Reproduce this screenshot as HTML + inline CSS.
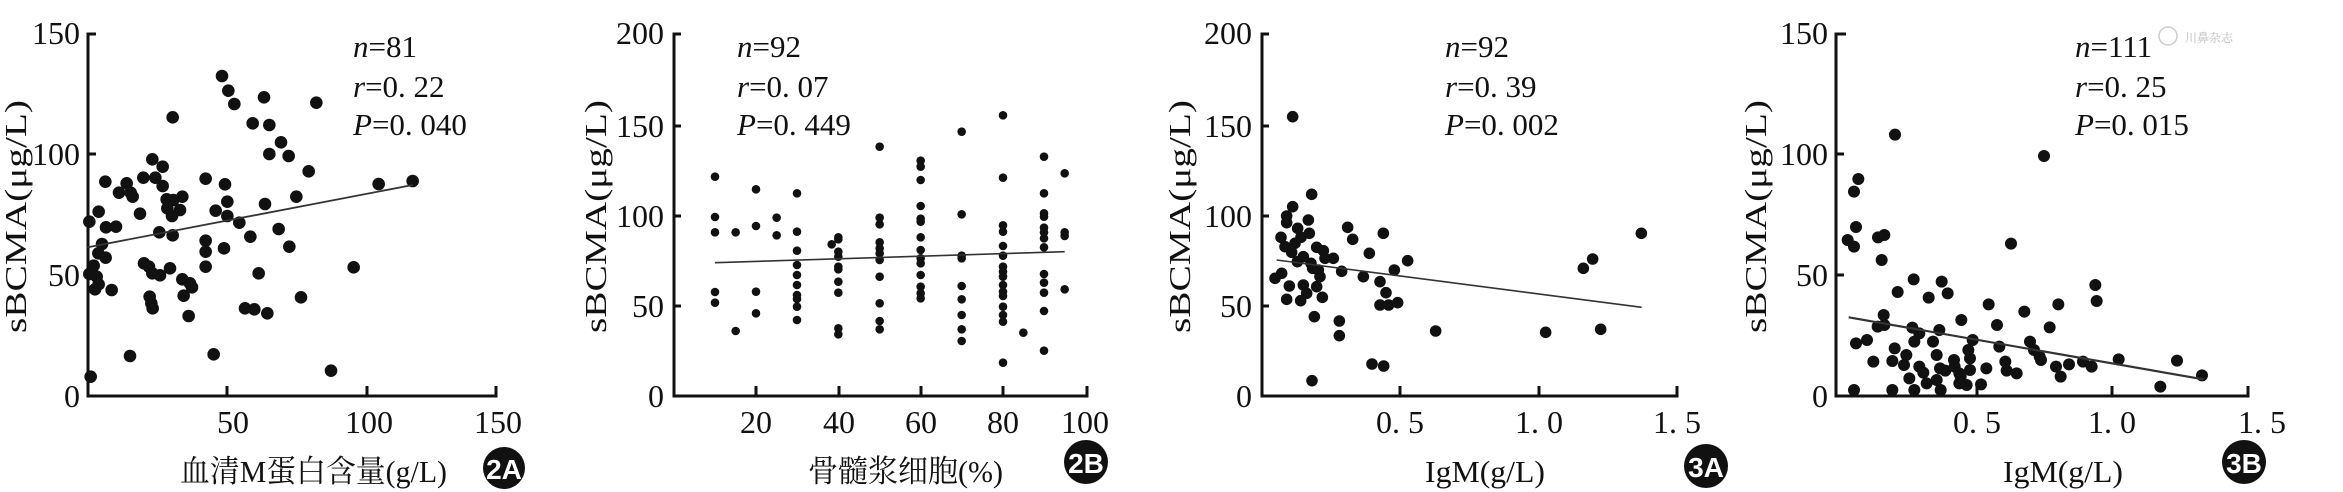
<!DOCTYPE html>
<html><head><meta charset="utf-8"><style>
html,body{margin:0;padding:0;background:#fff;}
svg{display:block;}
text{font-family:"Liberation Serif","Noto Serif CJK SC",serif;fill:#111;}
</style></head><body>
<svg id="s" width="2343" height="492" viewBox="0 0 2343 492" xmlns="http://www.w3.org/2000/svg">
<g stroke="#111" stroke-width="3" fill="none">
<path d="M96,34 H88 V396 H496 V386 M88,154 H96 M88,275 H96 M227,396 V386 M367,396 V386"/>
<path d="M681,34 H674 V396 H1087 V386 M674,126 H681 M674,216 H681 M674,306 H681 M756,396 V386 M839,396 V386 M921,396 V386 M1003,396 V386"/>
<path d="M1269,34 H1262 V396 H1677 V386 M1262,126 H1269 M1262,216 H1269 M1262,306 H1269 M1400,396 V386 M1539,396 V386"/>
<path d="M1846,34 H1836 V396 H2248 V386 M1836,154 H1844 M1836,275 H1844 M1977,396 V386 M2112,396 V386"/>
</g>
<g font-size="32" text-anchor="end">
<text x="80" y="44">150</text><text x="80" y="165">100</text><text x="80" y="286">50</text><text x="80" y="407">0</text>
<text x="664" y="44">200</text><text x="664" y="137">150</text><text x="664" y="227">100</text><text x="664" y="317">50</text><text x="664" y="407">0</text>
<text x="1252" y="44">200</text><text x="1252" y="137">150</text><text x="1252" y="227">100</text><text x="1252" y="317">50</text><text x="1252" y="407">0</text>
<text x="1828" y="44">150</text><text x="1828" y="165">100</text><text x="1828" y="286">50</text><text x="1828" y="407">0</text>
</g>
<g font-size="32" text-anchor="middle">
<text x="233" y="433">50</text><text x="369" y="433">100</text><text x="498" y="433">150</text>
<text x="756" y="433">20</text><text x="839" y="433">40</text><text x="921" y="433">60</text><text x="1003" y="433">80</text><text x="1085" y="433">100</text>
<text x="1400" y="433">0. 5</text><text x="1539" y="433">1. 0</text><text x="1677" y="433">1. 5</text>
<text x="1977" y="433">0. 5</text><text x="2112" y="433">1. 0</text><text x="2262" y="433">1. 5</text>
</g>
<g font-size="31">
<text transform="translate(26,333) rotate(-90)" textLength="233" lengthAdjust="spacingAndGlyphs">sBCMA(μg/L)</text>
<text transform="translate(606,333) rotate(-90)" textLength="233" lengthAdjust="spacingAndGlyphs">sBCMA(μg/L)</text>
<text transform="translate(1190,333) rotate(-90)" textLength="233" lengthAdjust="spacingAndGlyphs">sBCMA(μg/L)</text>
<text transform="translate(1766,333) rotate(-90)" textLength="233" lengthAdjust="spacingAndGlyphs">sBCMA(μg/L)</text>
<text x="180" y="482" textLength="267" lengthAdjust="spacingAndGlyphs">血清M蛋白含量(g/L)</text>
<text x="808" y="482" textLength="195" lengthAdjust="spacingAndGlyphs">骨髓浆细胞(%)</text>
<text x="1425" y="482" textLength="120" lengthAdjust="spacingAndGlyphs">IgM(g/L)</text>
<text x="2003" y="482" textLength="120" lengthAdjust="spacingAndGlyphs">IgM(g/L)</text>
</g>
<g font-size="31">
<text x="353" y="57"><tspan font-style="italic">n</tspan>=81</text>
<text x="353" y="97"><tspan font-style="italic">r</tspan>=0. 22</text>
<text x="353" y="135"><tspan font-style="italic">P</tspan>=0. 040</text>
<text x="737" y="57"><tspan font-style="italic">n</tspan>=92</text>
<text x="737" y="97"><tspan font-style="italic">r</tspan>=0. 07</text>
<text x="737" y="135"><tspan font-style="italic">P</tspan>=0. 449</text>
<text x="1445" y="57"><tspan font-style="italic">n</tspan>=92</text>
<text x="1445" y="97"><tspan font-style="italic">r</tspan>=0. 39</text>
<text x="1445" y="135"><tspan font-style="italic">P</tspan>=0. 002</text>
<text x="2075" y="57"><tspan font-style="italic">n</tspan>=111</text>
<text x="2075" y="97"><tspan font-style="italic">r</tspan>=0. 25</text>
<text x="2075" y="135"><tspan font-style="italic">P</tspan>=0. 015</text>
</g>
<g font-size="12"><circle cx="2168" cy="36" r="9" fill="none" stroke="#ccc" stroke-width="1.5"/><text x="2185" y="42" style="fill:#bbb">川鼻杂志</text></g>
<g>
<circle cx="504" cy="468" r="21" fill="#111"/><text x="504" y="479" font-size="28" font-weight="bold" text-anchor="middle" style="fill:#fff;font-family:'Liberation Sans',sans-serif">2A</text>
<circle cx="1086" cy="462" r="22" fill="#111"/><text x="1086" y="473" font-size="28" font-weight="bold" text-anchor="middle" style="fill:#fff;font-family:'Liberation Sans',sans-serif">2B</text>
<circle cx="1706" cy="466" r="22" fill="#111"/><text x="1706" y="477" font-size="28" font-weight="bold" text-anchor="middle" style="fill:#fff;font-family:'Liberation Sans',sans-serif">3A</text>
<circle cx="2244" cy="462" r="22" fill="#111"/><text x="2244" y="473" font-size="28" font-weight="bold" text-anchor="middle" style="fill:#fff;font-family:'Liberation Sans',sans-serif">3B</text>
</g>
<g id="d"></g>
</svg>
<script>
var NS="http://www.w3.org/2000/svg",g=document.getElementById("d");
function add(off,r,pts,line,lw){
 for(var i=0;i<pts.length;i+=2){var c=document.createElementNS(NS,"circle");
  c.setAttribute("cx",off+pts[i]/3);c.setAttribute("cy",pts[i+1]/3);c.setAttribute("r",r);c.setAttribute("fill","#111");g.appendChild(c);}
 var l=document.createElementNS(NS,"line");
 l.setAttribute("x1",off+line[0]/3);l.setAttribute("y1",line[1]/3);l.setAttribute("x2",off+line[2]/3);l.setAttribute("y2",line[3]/3);
 l.setAttribute("stroke","#333");l.setAttribute("stroke-width",lw);g.appendChild(l);
}
add(0,6.3,[666,228,685,272,703,312,518,352,792,292,949,308,758,370,808,375,843,427,808,462,866,468,457,478,488,500,926,514,316,545,430,533,466,533,488,558,617,536,675,553,1136,552,1238,543,380,550,357,578,392,578,398,590,547,590,500,598,520,600,682,605,795,612,889,590,296,635,420,641,647,632,540,630,268,665,318,682,348,680,718,668,682,648,502,625,516,648,478,697,518,706,836,687,751,710,617,722,306,732,868,740,672,745,295,760,317,773,281,797,432,790,447,800,457,820,510,805,480,826,547,838,570,850,576,862,617,755,617,800,776,820,1061,802,268,822,290,830,296,853,285,868,335,870,449,890,454,910,458,925,551,887,903,892,735,925,763,928,802,940,566,948,390,1068,641,1063,993,1112,272,1130],[262,742,1238,555],1.8);
var cols={375:[530,651,697,876,908],437:[697,993],498:[568,678,875,940],560:[653,706],621:[580,695,752,795,825,855,885,897,920,960],725:[733],745:[712,718,755,770,800,808,845,878,985,1003],869:[440,653,673,727,745,760,780,830,910,963,988],992:[482,500,540,618,656,665,712,750,775,790,825,860,880,895],1115:[395,643,767,775,858,898,945,988,1023],1239:[346,533,676,695,738,767,800,815,830,855,875,888,920,945,965,1088],1300:[998],1362:[470,580,640,650,683,697,715,742,822,848,878,933,1052],1424:[520,697,708,868]};
var p2=[];for(var k in cols){cols[k].forEach(function(y){p2.push(+k,y);});}
add(590,4.3,p2,[375,788,1424,755],1.6);
add(1170,5.8,[368,350,425,583,368,620,350,648,350,668,415,660,333,712,383,685,418,700,393,712,533,682,548,718,640,700,345,740,375,730,365,757,440,742,460,752,490,775,465,775,598,760,713,782,382,785,400,770,423,790,428,805,445,810,515,814,673,810,580,830,315,835,335,820,450,830,630,845,358,858,400,855,440,860,410,880,648,878,350,898,392,902,457,892,630,915,656,915,683,908,433,950,508,963,508,1007,797,993,1127,997,1292,988,1240,805,1268,777,1414,700,606,1092,641,1098,426,1142],[320,780,1415,922],1.6);
add(1750,6,[435,404,882,468,325,537,312,575,318,681,293,720,312,740,384,712,403,705,395,780,783,731,491,838,575,845,593,880,443,876,536,893,716,913,925,913,1036,855,1040,903,401,945,383,980,403,975,487,983,508,1000,493,1025,568,990,634,960,741,975,823,935,899,982,318,1030,351,1020,549,1025,434,1045,469,1065,560,1065,655,1050,668,1020,748,1040,840,1025,852,1050,869,1070,873,1080,612,1080,660,1075,370,1085,427,1083,462,1095,508,1100,520,1118,570,1105,586,1112,614,1100,628,1120,660,1110,766,1085,770,1112,800,1120,709,1105,918,1100,932,1130,957,1093,999,1085,1025,1100,1106,1078,1281,1082,1356,1126,478,1135,530,1150,560,1140,628,1150,650,1155,693,1153,632,1130,312,1170,427,1170,493,1170,572,1170,1231,1160],[296,952,1360,1138],2.2);
</script>
</body></html>
